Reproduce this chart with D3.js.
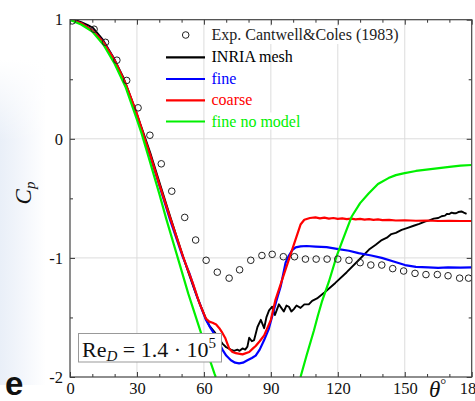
<!DOCTYPE html>
<html><head><meta charset="utf-8">
<script src="https://cdn.jsdelivr.net/npm/d3@7"></script>
<style>body{margin:0;background:#fff;overflow:hidden} svg{display:block}</style>
</head><body><svg id="c" width="475" height="401"></svg>
<script>
// ---- data ----
const xTicks = [0, 30, 60, 90, 120, 150, 180];
const yTicks = [1, 0, -1, -2];
const yTickLabels = ["1", "0", "-1", "-2"];

const expTheta = [1, 10.8, 15.9, 21, 25.4, 30.5, 35.8, 40.9, 45.6, 51.4, 56.3, 61, 66, 71.3, 76, 81, 86, 90.6, 95.6, 100.6, 105.5, 110.3, 115.2, 120, 125, 130, 134.8, 139.7, 144.6, 149.5, 154.6, 159.5, 164.6, 169.4, 174.6, 178.6];
const expCp    = [0.99, 0.92, 0.81, 0.66, 0.49, 0.26, 0.03, -0.21, -0.44, -0.66, -0.85, -1.02, -1.12, -1.17, -1.10, -1.02, -0.98, -0.97, -0.99, -0.99, -1.01, -1.01, -1.01, -1.01, -1.02, -1.04, -1.06, -1.06, -1.09, -1.11, -1.13, -1.14, -1.14, -1.15, -1.17, -1.17];

const inriaTheta = [0, 2, 5, 8, 10.4, 14.8, 19.3, 23.8, 28.2, 32.7, 36, 40, 45, 50, 53, 56, 58.5, 60.9, 62.5, 64.7, 66.5, 68.3, 70, 72.1, 73.5, 75, 76, 77.3, 78.5, 79.5, 80.3, 81.5, 82.5, 84, 85.5, 87, 88, 89.2, 90.6, 91.8, 93.6, 95.8, 97, 98.1, 99.2, 100.3, 101.5, 103.3, 105, 107, 108.5, 110.7, 114, 118.9, 124, 129.3, 134, 137, 139.7, 142, 144, 146, 148.6, 151, 154, 156.5, 159, 161, 163, 165, 166.5, 168, 169, 170, 171, 172, 173, 174, 175.4, 176.5, 177.7];
const inriaCp    = [1.0, 1.0, 0.98, 0.955, 0.93, 0.83, 0.69, 0.52, 0.30, 0.06, -0.12, -0.36, -0.66, -0.95, -1.12, -1.28, -1.40, -1.51, -1.57, -1.62, -1.67, -1.72, -1.75, -1.77, -1.78, -1.77, -1.78, -1.76, -1.77, -1.745, -1.67, -1.70, -1.69, -1.58, -1.52, -1.59, -1.50, -1.44, -1.41, -1.48, -1.39, -1.45, -1.40, -1.41, -1.45, -1.43, -1.40, -1.42, -1.39, -1.39, -1.36, -1.34, -1.29, -1.21, -1.12, -1.02, -0.93, -0.89, -0.85, -0.83, -0.80, -0.79, -0.765, -0.75, -0.73, -0.715, -0.695, -0.685, -0.67, -0.665, -0.65, -0.645, -0.63, -0.632, -0.62, -0.625, -0.625, -0.615, -0.61, -0.62, -0.63];

const fineTheta = [0, 5, 10, 15, 20, 25, 30, 33.5, 36, 40, 45, 50.5, 53.5, 57, 60.9, 63, 65.4, 68.3, 70, 72.1, 74, 75.8, 77.5, 79.5, 81.5, 83.2, 85, 87, 89, 90.6, 92.5, 94.4, 96.6, 98.1, 99.6, 101.1, 103.3, 106, 110, 115, 119.6, 125, 129.3, 135, 139.7, 145, 150.1, 155, 160.5, 165, 169.4, 175, 180];
const fineCp    = [1.0, 0.97, 0.91, 0.81, 0.66, 0.45, 0.20, -0.01, -0.15, -0.39, -0.69, -0.99, -1.13, -1.33, -1.52, -1.59, -1.66, -1.77, -1.82, -1.86, -1.88, -1.885, -1.88, -1.86, -1.84, -1.82, -1.77, -1.69, -1.60, -1.49, -1.36, -1.24, -1.04, -0.98, -0.935, -0.912, -0.903, -0.90, -0.905, -0.91, -0.924, -0.94, -0.96, -0.98, -1.0, -1.03, -1.06, -1.075, -1.08, -1.083, -1.08, -1.082, -1.08];

const coarseTheta = [0, 5, 10, 15, 20, 25, 30, 33.5, 36, 40, 45, 50.5, 53, 55, 58, 60.9, 62.4, 63.9, 65.5, 66.9, 68.3, 69.5, 71.3, 72.8, 74.3, 77.3, 80.3, 82, 83.2, 85, 87, 90, 92.1, 97.8, 103.3, 105, 107.5, 110, 112, 114, 116, 118, 120, 122, 124, 126, 128, 130, 132, 134, 136, 138, 140, 143, 146, 150, 155, 160, 165, 170, 175, 180];
const coarseCp    = [1.0, 0.97, 0.91, 0.81, 0.66, 0.46, 0.21, 0.0, -0.14, -0.38, -0.67, -0.98, -1.11, -1.21, -1.38, -1.51, -1.535, -1.545, -1.56, -1.59, -1.63, -1.67, -1.76, -1.79, -1.80, -1.81, -1.79, -1.76, -1.74, -1.70, -1.65, -1.52, -1.35, -1.03, -0.72, -0.68, -0.665, -0.66, -0.668, -0.662, -0.67, -0.665, -0.672, -0.668, -0.675, -0.67, -0.677, -0.673, -0.679, -0.675, -0.68, -0.677, -0.683, -0.68, -0.686, -0.684, -0.688, -0.686, -0.69, -0.688, -0.69, -0.69];

const noModelTheta = [0, 5, 10, 15, 20, 25, 30, 32, 35, 40, 43.1, 48.3, 53, 58.7, 62, 64.7, 65.3, null, 103.3, 106, 109.3, 111, 113, 116, 119.4, 122, 124, 126.3, 130, 133.8, 138, 142.7, 146, 149.4, 155, 163.5, 170, 175, 180];
const noModelCp    = [1.0, 0.96, 0.90, 0.79, 0.63, 0.43, 0.16, 0.05, -0.14, -0.46, -0.67, -1.0, -1.3, -1.63, -1.82, -1.97, -2.0, null, -2.0, -1.82, -1.61, -1.49, -1.36, -1.2, -0.99, -0.86, -0.76, -0.65, -0.54, -0.46, -0.38, -0.33, -0.305, -0.29, -0.27, -0.25, -0.235, -0.225, -0.22];

const seriesNames = ["Exp. Cantwell&Coles (1983)", "INRIA mesh", "fine", "coarse", "fine no model"];
const seriesColors = ["#000000", "#000000", "#0000ff", "#ff0000", "#00f000"];

// ---- chart ----
const svg = d3.select("#c");
const L = 70, R = 471.7, T = 19.7, B = 377;
const x = d3.scaleLinear().domain([0, 180]).range([L, R]);
const y = d3.scaleLinear().domain([-2, 1]).range([B, T]);
const serif = "'Liberation Serif', 'Times New Roman', serif";

// left background artifact
const defs = svg.append("defs");
const lg = defs.append("linearGradient").attr("id", "bg").attr("x1", 0).attr("x2", 1).attr("y1", 0).attr("y2", 0);
lg.append("stop").attr("offset", "0%").attr("stop-color", "#e9eff8");
lg.append("stop").attr("offset", "30%").attr("stop-color", "#eff3fa");
lg.append("stop").attr("offset", "100%").attr("stop-color", "#ffffff");
const vg = defs.append("linearGradient").attr("id", "bgv").attr("x1", 0).attr("x2", 0).attr("y1", 0).attr("y2", 1);
vg.append("stop").attr("offset", "0%").attr("stop-color", "#fff").attr("stop-opacity", 1);
vg.append("stop").attr("offset", "25%").attr("stop-color", "#fff").attr("stop-opacity", 0);
vg.append("stop").attr("offset", "100%").attr("stop-color", "#fff").attr("stop-opacity", 0);
svg.append("rect").attr("x", 0).attr("y", 60).attr("width", 46).attr("height", 325).attr("fill", "url(#bg)");
svg.append("rect").attr("x", 0).attr("y", 60).attr("width", 46).attr("height", 325).attr("fill", "url(#bgv)");
svg.append("text").attr("x", 5).attr("y", 395).attr("font-family", "'Liberation Sans', Arial, sans-serif")
  .attr("font-weight", "bold").attr("font-size", 33).attr("fill", "#111").text("e");

// clip
defs.append("clipPath").attr("id", "clip").append("rect").attr("x", L).attr("y", T).attr("width", R - L).attr("height", B - T);

// grid
const g = svg.append("g");
g.selectAll(".vg").data([30, 60, 90, 120, 150]).join("line")
  .attr("x1", d => x(d)).attr("x2", d => x(d)).attr("y1", T).attr("y2", B)
  .attr("stroke", "#dcdcdc").attr("stroke-width", 1);
g.selectAll(".hg").data([0, -1]).join("line")
  .attr("x1", L).attr("x2", R).attr("y1", d => y(d)).attr("y2", d => y(d))
  .attr("stroke", "#dcdcdc").attr("stroke-width", 1);

// axes with inward ticks
const minorX = d3.range(0, 181, 10).filter(v => v % 30 !== 0);
const minorY = [0.5, -0.5, -1.5];
function styleAxis(sel) {
  sel.select(".domain").remove();
  sel.selectAll(".tick line").attr("stroke", "#333").attr("stroke-width", 1);
  sel.selectAll(".tick text").attr("font-family", serif).attr("font-size", 16.5).attr("fill", "#111");
}
const axB = svg.append("g").attr("transform", `translate(0,${B})`)
  .call(d3.axisBottom(x).tickValues(xTicks).tickSize(-5).tickPadding(5).tickFormat(d3.format("d")));
styleAxis(axB);
const axBm = svg.append("g").attr("transform", `translate(0,${B})`)
  .call(d3.axisBottom(x).tickValues(minorX).tickSize(-3).tickFormat(""));
styleAxis(axBm);
const axT = svg.append("g").attr("transform", `translate(0,${T})`)
  .call(d3.axisTop(x).tickValues(xTicks).tickSize(-5).tickFormat(""));
styleAxis(axT);
const axTm = svg.append("g").attr("transform", `translate(0,${T})`)
  .call(d3.axisTop(x).tickValues(minorX).tickSize(-3).tickFormat(""));
styleAxis(axTm);
const axL = svg.append("g").attr("transform", `translate(${L},0)`)
  .call(d3.axisLeft(y).tickValues(yTicks).tickSize(-5).tickPadding(7).tickFormat((d, i) => yTickLabels[i]));
styleAxis(axL);
const axLm = svg.append("g").attr("transform", `translate(${L},0)`)
  .call(d3.axisLeft(y).tickValues(minorY).tickSize(-3).tickFormat(""));
styleAxis(axLm);
const axR = svg.append("g").attr("transform", `translate(${R},0)`)
  .call(d3.axisRight(y).tickValues(yTicks).tickSize(-5).tickFormat(""));
styleAxis(axR);
const axRm = svg.append("g").attr("transform", `translate(${R},0)`)
  .call(d3.axisRight(y).tickValues(minorY).tickSize(-3).tickFormat(""));
styleAxis(axRm);

// legend
const legX1 = 166, legX2 = 205, legTX = 211.5;
const legY = [35, 57.3, 79, 100.3, 121.5];
const leg = svg.append("g");
seriesNames.forEach((name, i) => {
  const t = leg.append("text").attr("x", legTX).attr("y", legY[i] + 5)
    .attr("font-family", serif).attr("font-size", 16)
    .attr("fill", i === 0 ? "#222" : seriesColors[i]).text(name);
  if (i === 0 || i === 4) {
    const bb = t.node().getBBox();
    leg.insert("rect", "text").attr("x", bb.x - 1).attr("y", bb.y).attr("width", bb.width + 2).attr("height", bb.height).attr("fill", "#fff");
  }
  if (i === 0) {
    leg.append("circle").attr("cx", 185.7).attr("cy", legY[i]).attr("r", 3.3)
      .attr("fill", "none").attr("stroke", "#222").attr("stroke-width", 1);
  } else {
    leg.append("line").attr("x1", legX1).attr("x2", legX2).attr("y1", legY[i]).attr("y2", legY[i])
      .attr("stroke", seriesColors[i]).attr("stroke-width", 2.2);
  }
});

// curves
const plot = svg.append("g").attr("clip-path", "url(#clip)");
const line = d3.line().defined(d => d[0] !== null && d[1] !== null).x(d => x(d[0])).y(d => y(d[1]));
const curves = [
  [inriaTheta, inriaCp, seriesColors[1], 1.9],
  [fineTheta, fineCp, seriesColors[2], 2.2],
  [coarseTheta, coarseCp, seriesColors[3], 2.2],
  [noModelTheta, noModelCp, seriesColors[4], 2.2]
];
curves.forEach(([th, cp, col, w]) => {
  plot.append("path").datum(d3.zip(th, cp)).attr("d", line)
    .attr("fill", "none").attr("stroke", col).attr("stroke-width", w).attr("stroke-linejoin", "round");
});
plot.selectAll(".exp").data(d3.zip(expTheta, expCp)).join("circle")
  .attr("cx", d => x(d[0])).attr("cy", d => y(d[1])).attr("r", 3.3)
  .attr("fill", "none").attr("stroke", "#222").attr("stroke-width", 1);

// frame
svg.append("rect").attr("x", L).attr("y", T).attr("width", R - L).attr("height", B - T)
  .attr("fill", "none").attr("stroke", "#444").attr("stroke-width", 1.2);

// Re box
const box = svg.append("g");
box.append("rect").attr("x", 78.5).attr("y", 333.5).attr("width", 143).attr("height", 28.5)
  .attr("fill", "#fff").attr("stroke", "#999").attr("stroke-width", 1);
const re = box.append("text").attr("x", 82).attr("y", 356.5).attr("font-family", serif).attr("font-size", 22).attr("fill", "#111");
re.append("tspan").text("Re");
re.append("tspan").attr("font-style", "italic").attr("font-size", 15).attr("dy", 4).text("D");
re.append("tspan").attr("dy", -4).text(" = 1.4 · 10");
re.append("tspan").attr("font-size", 15).attr("dy", -9).text("5");

// axis titles
svg.append("text").attr("transform", "translate(31,193) rotate(-90)").attr("text-anchor", "middle")
  .attr("font-family", serif).attr("font-size", 23).attr("font-style", "italic").attr("fill", "#111")
  .call(t => { t.append("tspan").text("C"); t.append("tspan").attr("font-size", 15).attr("dy", 4).text("p"); });
const th = svg.append("text").attr("x", 429).attr("y", 397).attr("font-family", serif).attr("font-size", 23).attr("fill", "#111");
th.append("tspan").attr("font-style", "italic").text("θ");
th.append("tspan").attr("font-size", 15).attr("dy", -8).text("°");
</script></body></html>
